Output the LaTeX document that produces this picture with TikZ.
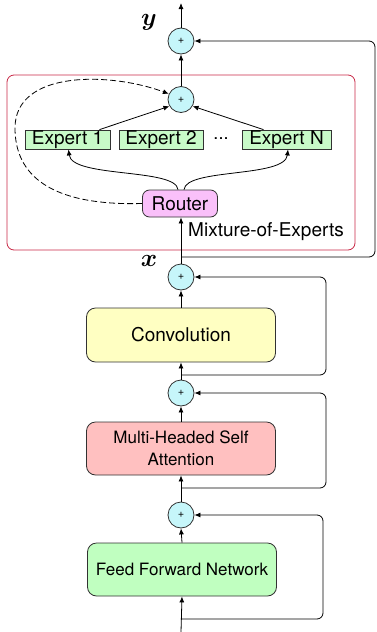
\documentclass[tikz,border=0pt]{standalone}
\usepackage{fontspec}
\usepackage{bm}
\setmainfont{TeX Gyre Heros}
\usetikzlibrary{arrows.meta,calc}
\definecolor{plusfill}{RGB}{198,246,250}
\definecolor{expfill}{RGB}{200,250,200}
\definecolor{routfill}{RGB}{250,192,250}
\definecolor{convfill}{RGB}{255,255,194}
\definecolor{mhsafill}{RGB}{255,192,192}
\definecolor{ffnfill}{RGB}{192,255,192}
\definecolor{moered}{RGB}{200,40,70}
\definecolor{edge}{RGB}{50,50,50}
\tikzset{
  plusnode/.style={circle,draw=edge,fill=plusfill,line width=0.8pt,minimum size=26pt,inner sep=0pt,font=\fontsize{11}{12}\selectfont},
  expnode/.style={rectangle,draw=edge,fill=expfill,line width=0.8pt,minimum height=19pt,inner sep=0pt,font=\fontsize{19}{20}\selectfont},
  bigbox/.style={rectangle,rounded corners=9pt,draw=edge,line width=0.8pt,minimum width=189pt,minimum height=54pt,inner sep=0pt,align=center,font=\fontsize{17}{22}\selectfont},
  arr/.style={-{Latex[length=6pt,width=5pt]},line width=0.8pt},
  res/.style={arr,rounded corners=6pt},
}
\begin{document}
\begin{tikzpicture}[x=1pt,y=-1pt]
\useasboundingbox (0,0) rectangle (376,632);
% MoE box
\draw[moered,line width=0.8pt,rounded corners=7pt] (7,75) rectangle (355,250);
\node[font=\fontsize{19}{20}\selectfont] (moelabel) at (266,232) {Mixture-of-Experts};
% plus nodes
\node[plusnode] (topplus) at (181,41) {+};
\node[plusnode] (inplus) at (181,99.5) {+};
\node[plusnode] (xplus) at (181,277) {+};
\node[plusnode] (plustwo) at (181,393) {+};
\node[plusnode] (plusthree) at (181,515) {+};
% labels
\node[font=\fontsize{25}{28}\selectfont] (ylab) at (149,22) {$\bm{y}$};
\node[font=\fontsize{25}{28}\selectfont] (xlab) at (149,261) {$\bm{x}$};
% experts
\node[expnode,minimum width=85pt] (eone) at (67.5,139.5) {Expert 1};
\node[expnode,minimum width=84pt] (etwo) at (161,139.5) {Expert 2};
\node[expnode,minimum width=89pt] (en) at (286.5,139.5) {Expert N};
\node[font=\fontsize{18}{20}\selectfont] (dots) at (221,139) {...};
\node[rectangle,rounded corners=7pt,draw=edge,fill=routfill,line width=0.8pt,minimum width=75pt,minimum height=27pt,inner sep=0pt,font=\fontsize{19}{20}\selectfont] (router) at (180,203.5) {Router};
% main boxes
\node[bigbox,fill=convfill,font=\fontsize{19}{22}\selectfont] (conv) at (181,335) {Convolution};
\node[bigbox,fill=mhsafill,minimum height=53pt] (mhsa) at (181,448.5) {Multi-Headed Self\\Attention};
\node[bigbox,fill=ffnfill,minimum height=53pt] (ffn) at (182,569.5) {Feed Forward Network};
% coordinates
\coordinate (outtop) at (181,3);
\coordinate (inbot) at (181,632);
\coordinate (rA) at (181,257);
\coordinate (rAr) at (375,257);
\coordinate (rB) at (181,375);
\coordinate (rBr) at (326,375);
\coordinate (rC) at (181,488);
\coordinate (rCr) at (326,488);
\coordinate (rD) at (181,619);
\coordinate (rDr) at (323,619);
% vertical flow
\draw[arr] (inbot) -- (ffn.south);
\draw[arr] (ffn.north) -- (plusthree.south);
\draw[arr] (plusthree.north) -- (mhsa.south);
\draw[arr] (mhsa.north) -- (plustwo.south);
\draw[arr] (plustwo.north) -- (conv.south);
\draw[arr] (conv.north) -- (xplus.south);
\draw[arr] (xplus.north) -- (router.south -| xplus.north);
\draw[arr] (inplus.north) -- (topplus.south);
\draw[arr] (topplus.north) -- (outtop);
% residuals
\draw[res] (rD) -- (rDr) -- (rDr |- plusthree.east) -- (plusthree.east);
\draw[res] (rC) -- (rCr) -- (rCr |- plustwo.east) -- (plustwo.east);
\draw[res] (rB) -- (rBr) -- (rBr |- xplus.east) -- (xplus.east);
\draw[res] (rA) -- (rAr) -- (rAr |- topplus.east) -- (topplus.east);
% experts to sum
\draw[arr] ($(eone.north)+(32,0)$) -- (inplus.210);
\draw[arr] ($(en.north)+(-23,0)$) -- (inplus.-30);
% router to experts
\draw[arr] ($(router.north)+(-2,0)$) .. controls (176,168) and (72,178) .. ($(eone.south)+(1,0)$);
\draw[arr] ($(router.north)+(4,0)$) .. controls (186,168) and (285,178) .. ($(en.south)+(1.5,0)$);
% dashed
\draw[arr,dashed,dash pattern=on 6pt off 3pt] (router.west) .. controls (50,206) and (15,175) .. (15,128)
  .. controls (15,70) and (110,72) .. (inplus.155);
\end{tikzpicture}
\end{document}
